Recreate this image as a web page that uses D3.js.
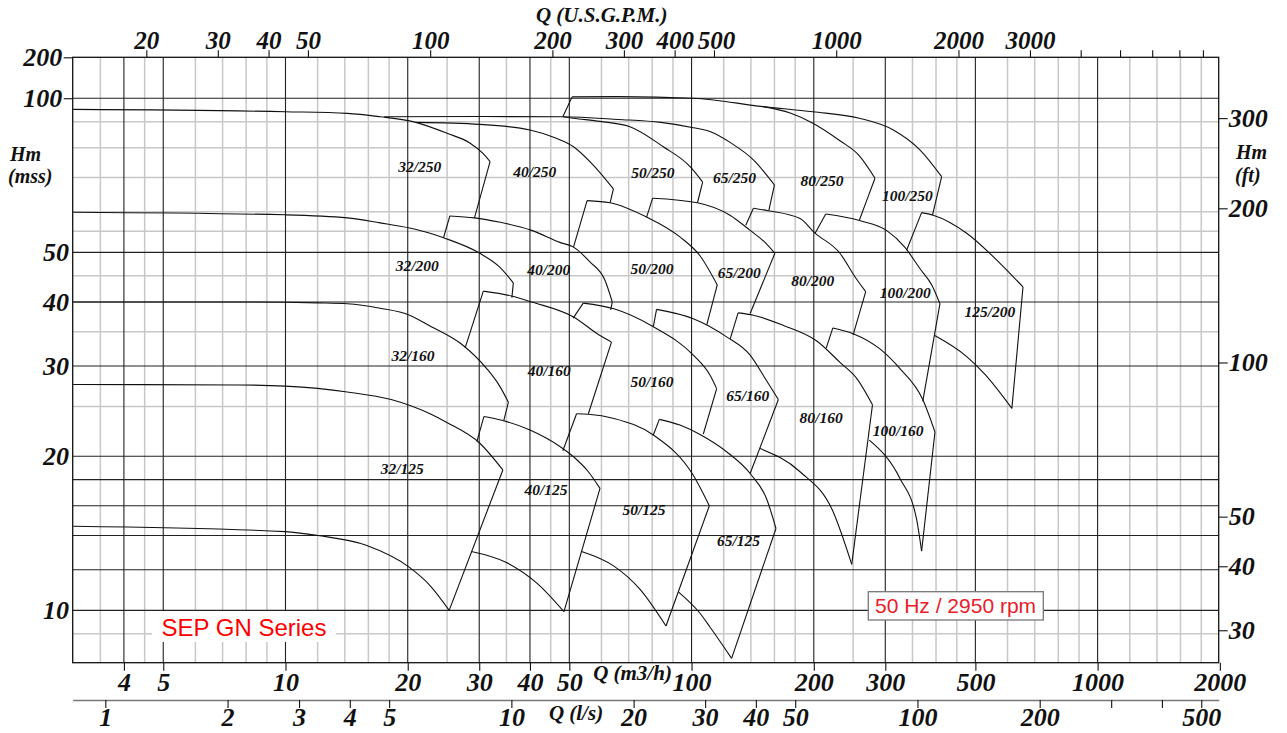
<!DOCTYPE html>
<html>
<head>
<meta charset="utf-8">
<script src="https://cdn.jsdelivr.net/npm/d3@7/dist/d3.min.js"></script>
<style>
  body { margin: 0; background: #fff; }
  svg text { font-family: "Liberation Serif", "Times New Roman", serif; font-weight: bold; font-style: italic; fill: #111; }
  .axis text { font-size: 26px; }
  .axis.top text { font-size: 25px; }
  .axis line { stroke: #111; stroke-width: 1.1; }
  .axis-title { font-size: 21px; }
  .curve-label { font-size: 15.5px; }
  .grid-light line { stroke: #c8c8c8; stroke-width: 1.5; }
  .grid-dark line { stroke: #222; stroke-width: 1.1; }
  .curves path { fill: none; stroke: #111; stroke-width: 1.1; }
  svg text.sans { font-family: "Liberation Sans", Arial, sans-serif; font-style: normal; font-weight: normal; }
</style>
</head>
<body>
<svg id="chart" width="1287" height="733"></svg>
<script>
// ---- axis values ----
const qTicksM3h = [4, 5, 10, 20, 30, 40, 50, 100, 200, 300, 500, 1000, 2000];
const qTicksGpm = [20, 30, 40, 50, 100, 200, 300, 400, 500, 1000, 2000, 3000];
const qMinorGpm = [4000, 5000, 6000, 7000, 8000];
const qTicksLs = [1, 2, 3, 4, 5, 10, 20, 30, 40, 50, 100, 200, 500];
const qMinorLs = [300, 400];
const hTicksM = [10, 20, 30, 40, 50, 100];
const hTopLabel = "200";
const hTicksFt = [30, 40, 50, 100, 200, 300];

// ---- grid ----
const vGridDark = [4, 5, 10, 20, 30, 40, 50, 100, 200, 300, 500, 1000];
const vGridLight = [3.5, 4.5, 6, 7, 8, 9, 12, 14, 16, 18, 25, 35, 45, 60, 70, 80, 90,
  120, 140, 160, 180, 250, 350, 400, 450, 600, 700, 800, 900, 1200, 1400, 1600, 1800];
const hGridDark = [10, 12, 14, 16, 18, 20, 30, 40, 50, 100];
const hGridLight = [9, 25, 35, 45, 55, 60, 70, 80, 90];

// ---- pump curves, Q in m3/h, H in m ----
// top = max impeller curve, left/right = end points of the side edges, bottom = min impeller curve
const series250 = [
  { name: "32/250", top: [[3, 95.1], [10, 94.1], [14.2, 93.4], [17.1, 92], [20.6, 90], [25, 85.4], [28.5, 81.7], [30.6, 78.1], [31.9, 75.2]], right: [29.2, 58.4] },
  { name: "40/250", top: [[21, 89.7], [30.1, 88.9], [40, 86.7], [46.1, 83.7], [51.2, 80.4], [57.2, 74.1], [64.2, 66.5]], right: [63, 62.5] },
  { name: "50/250", top: [[48.3, 92], [51.2, 91.4], [59.5, 90.1], [70.5, 88], [85.2, 80.4], [99.2, 73.5], [106.5, 68.6]], right: [103.4, 62.5] },
  { name: "65/250", top: [[17.5, 92], [30.1, 92.1], [48.2, 92], [66, 90.9], [84, 89.7], [101, 87.6], [111, 86.1], [125, 81.8], [142, 75.8], [160, 67.7]], right: [155, 60.3] },
  { name: "80/250", top: [[150, 96.3], [175, 93.6], [199, 89.4], [232, 82.6], [259, 77.2], [283, 69.8]], right: [259, 57.8] },
  { name: "100/250", left: [48.2, 92], top: [[50.8, 100.6], [66, 100.7], [101, 100], [150, 96.3], [199, 94.1], [259, 91.4], [314, 86.7], [365, 79.3], [413, 70.3]], right: [392, 59.1] }
];
const series200 = [
  { name: "32/200", top: [[3, 59.9], [10, 59.2], [14.2, 58.4], [17.1, 57.1], [20.2, 55.8], [22.7, 54.5], [24.5, 53.4], [30.1, 49.8], [33.7, 46.8], [36.4, 43.6]], right: [36.1, 40.8] },
  { name: "40/200", left: [24.5, 53.4], top: [[25.4, 58.9], [29.2, 58.4], [33.6, 57.3], [40.4, 55.2], [47.4, 52.3], [51.2, 51.2], [56.2, 47.9], [61.2, 44.1], [63.8, 40]], right: [63.2, 38.6] },
  { name: "50/200", left: [51.2, 51.2], top: [[55.3, 63.1], [63, 62.5], [77.5, 58.6], [93.6, 53.6], [105, 49.2], [115.7, 43.2]], right: [109, 36.1] },
  { name: "65/200", left: [77.5, 58.6], top: [[80.2, 63.8], [103.4, 62.5], [124.3, 59.1], [139.4, 55.2], [151.7, 52.3], [160.4, 49.8]], right: [139.4, 38] },
  { name: "80/200", left: [136, 56.5], top: [[142, 61], [154.5, 60.3], [185, 58.2], [201, 54.6], [232, 49.8], [254, 44.5], [268.5, 41.9]], right: [250, 34.5] },
  { name: "100/200", left: [201.5, 54.5], top: [[214, 59.4], [259, 57.7], [302, 55.2], [335, 51.2], [365, 46.5], [391, 43.1], [409, 39.7]], right: [371, 25.6] },
  { name: "125/200", left: [338.5, 50.5], top: [[368.6, 59.8], [393.8, 59.1], [476, 54.5], [575, 47.6], [655, 42.8]], right: [615, 24.8],
    bottom: [[397, 34.4], [476, 31.3], [528, 28.9], [615, 24.8]] }
];
const series160 = [
  { name: "32/160", top: [[3, 40], [8, 40], [12, 39.85], [14.2, 39.7], [17.1, 38.9], [20.2, 37.7], [22.7, 35.9], [27.4, 32.9], [31.3, 29.65], [33.6, 27.5], [35.4, 25.5]], right: [34.5, 23.5] },
  { name: "40/160", left: [27.7, 32.55], top: [[30.7, 42], [36, 41.1], [40.4, 40], [51.2, 37.4], [59.5, 34.4], [63.5, 33.4]], right: [55.7, 24.2] },
  { name: "50/160", left: [51.1, 37.2], top: [[54.1, 39.8], [64.4, 38.8], [80.5, 35.8], [101, 31.5], [111, 28.8], [115.3, 27.1]], right: [106.9, 22.1] },
  { name: "65/160", left: [80.5, 35.8], top: [[82, 38.7], [101, 37.1], [122, 34.2], [139.4, 31.5], [151.7, 28.4], [163.6, 25.8]], right: [139.4, 18.5] },
  { name: "80/160", left: [124.5, 33.9], top: [[130.2, 38.1], [142, 37.7], [168.4, 36], [203, 33.6], [232, 30.5], [254.8, 28.4], [279, 25.2]], right: [248, 12.3],
    bottom: [[147.5, 20.7], [185, 18.65], [223, 15.6], [248, 12.3]] },
  { name: "100/160", left: [214.6, 32.5], top: [[222.8, 35.6], [250, 34.7], [291, 32.4], [326, 29.65], [371, 25.8], [397.6, 22.3]], right: [368.6, 13.05],
    bottom: [[274, 21.5], [326, 18.1], [358, 15.1], [368.6, 13.05]] }
];
const series125 = [
  { name: "32/125", top: [[3, 27.6], [7.7, 27.55], [10, 27.4], [14.2, 26.7], [18.2, 25.8], [22.7, 24.2], [24.9, 23.3], [30.1, 21.2], [34.3, 18.8]], right: [25.3, 10],
    bottom: [[3, 14.6], [10, 14.25], [12, 14], [15.8, 13.4], [20.2, 12.13], [22.7, 11.18], [25.3, 10]] },
  { name: "40/125", left: [29.6, 21.35], top: [[30.8, 23.9], [34.1, 23.5], [40, 22.5], [47.5, 20.87], [51.2, 19.95], [55.7, 18.65], [59.5, 17.3]], right: [48.5, 9.94],
    bottom: [[28.7, 13.03], [35, 12.4], [41.6, 11.3], [48.5, 9.94]] },
  { name: "50/125", left: [48.2, 20.5], top: [[52.1, 24.2], [55.7, 24.15], [64.4, 23.7], [80.5, 22], [101, 18.35], [110.6, 16]], right: [86.5, 9.32],
    bottom: [[53.6, 13.03], [64.4, 12.2], [74.6, 11], [86.5, 9.32]] },
  { name: "65/125", left: [80.5, 22], top: [[83.3, 23.6], [93.6, 23], [104.9, 22.05], [122, 20.4], [139.4, 18.5], [153.1, 16.5], [161.4, 14.45]], right: [125.5, 8.06],
    bottom: [[92.8, 10.87], [104.9, 9.87], [111, 9.28], [125.5, 8.06]] }
];

// label anchors [name, Q, H]
const curveLabels = [
  ["32/250", 21.4, 73.5], ["40/250", 41.1, 71.7], ["50/250", 80.3, 71.4], ["65/250", 127.6, 69.8], ["80/250", 209.6, 69.1], ["100/250", 340, 64.4],
  ["32/200", 21.1, 47], ["40/200", 44.5, 46.3], ["50/200", 79.9, 46.4], ["65/200", 131, 45.5], ["80/200", 198.8, 44], ["100/200", 336, 41.7], ["125/200", 543, 38.3],
  ["32/160", 20.6, 31.4], ["40/160", 44.6, 29.4], ["50/160", 79.9, 27.9], ["65/160", 137.5, 26.2], ["80/160", 208.5, 23.8], ["100/160", 322.5, 22.4],
  ["32/125", 19.4, 18.85], ["40/125", 43.8, 17.15], ["50/125", 76.4, 15.7], ["65/125", 130.5, 13.65]
];

// unit conversions
const GPM_PER_M3H = 4.4029;
const M3H_PER_LS = 3.6;
const M_PER_FT = 0.3048;

const plot = { left: 72.7, right: 1218.7, top: 57.3, bottom: 662.7 };
const Q_RANGE = [2.992, 1987];
const H_RANGE = [7.903, 120.2];

const x = d3.scaleLog().domain(Q_RANGE).range([plot.left, plot.right]);
const y = d3.scaleLog().domain(H_RANGE).range([plot.bottom, plot.top]);
const xGpm = d3.scaleLog().domain(Q_RANGE.map(q => q * GPM_PER_M3H)).range(x.range());
const xLs = d3.scaleLog().domain(Q_RANGE.map(q => q / M3H_PER_LS)).range(x.range());
const yFt = d3.scaleLog().domain(H_RANGE.map(h => h / M_PER_FT)).range(y.range());

const svg = d3.select("#chart");

// grid
const grid = svg.append("g");
function vlines(vals, cls) {
  grid.append("g").attr("class", cls).selectAll("line").data(vals).join("line")
    .attr("x1", d => x(d)).attr("x2", d => x(d))
    .attr("y1", plot.top).attr("y2", plot.bottom);
}
function hlines(vals, cls) {
  grid.append("g").attr("class", cls).selectAll("line").data(vals).join("line")
    .attr("x1", plot.left).attr("x2", plot.right)
    .attr("y1", d => y(d)).attr("y2", d => y(d));
}
vlines(vGridLight, "grid-light");
hlines(hGridLight, "grid-light");
vlines(vGridDark, "grid-dark");
hlines(hGridDark, "grid-dark");

// series tag with white background
svg.append("rect").attr("x", 152).attr("y", 611).attr("width", 184).attr("height", 31).attr("fill", "#fff");
svg.append("text").attr("class", "sans").attr("x", 244).attr("y", 636)
  .attr("text-anchor", "middle").style("font-size", "24px").style("fill", "#ff0000")
  .text("SEP GN Series");

// curves
const straight = d3.line().x(d => x(d[0])).y(d => y(d[1]));
const smooth = d3.line().x(d => x(d[0])).y(d => y(d[1])).curve(d3.curveMonotoneX);
const curves = svg.append("g").attr("class", "curves");
[...series250, ...series200, ...series160, ...series125].forEach(p => {
  curves.append("path").attr("d", smooth(p.top));
  if (p.left) curves.append("path").attr("d", straight([p.left, p.top[0]]));
  curves.append("path").attr("d", straight([p.top[p.top.length - 1], p.right]));
  if (p.bottom) curves.append("path").attr("d", smooth(p.bottom));
});

svg.append("g").selectAll("text").data(curveLabels).join("text")
  .attr("class", "curve-label")
  .attr("x", d => x(d[1])).attr("y", d => y(d[2]))
  .attr("dy", "0.33em").attr("text-anchor", "middle")
  .text(d => d[0]);

// frame
svg.append("rect")
  .attr("x", plot.left).attr("y", plot.top)
  .attr("width", plot.right - plot.left).attr("height", plot.bottom - plot.top)
  .attr("fill", "none").attr("stroke", "#111").attr("stroke-width", 1.3);

// axes
const leftAxis = svg.append("g").attr("class", "axis")
  .attr("transform", `translate(${plot.left},0)`)
  .call(d3.axisLeft(y).tickValues([...hTicksM, H_RANGE[1]]).tickSize(0).tickPadding(3.7)
    .tickFormat(d => d === H_RANGE[1] ? hTopLabel : d));
leftAxis.select(".domain").remove();
leftAxis.selectAll(".tick").filter(d => d >= 100).each(function () {
  d3.select(this).select("line").attr("x2", -9);
  d3.select(this).select("text").attr("x", -10.4);
});

const rightAxis = svg.append("g").attr("class", "axis")
  .attr("transform", `translate(${plot.right},0)`)
  .call(d3.axisRight(yFt).tickValues(hTicksFt).tickSize(9).tickPadding(1).tickFormat(d => d));
rightAxis.select(".domain").remove();

const topAxis = svg.append("g").attr("class", "axis top")
  .attr("transform", `translate(0,${plot.top})`)
  .call(d3.axisTop(xGpm).tickValues([...qTicksGpm, ...qMinorGpm]).tickSize(7).tickPadding(1)
    .tickFormat(d => qTicksGpm.includes(d) ? d : ""));
topAxis.select(".domain").remove();
topAxis.selectAll(".tick").filter(d => d === 500).select("text").attr("dx", 2);

const bottomAxis = svg.append("g").attr("class", "axis")
  .attr("transform", `translate(0,${plot.bottom})`)
  .call(d3.axisBottom(x).tickValues(qTicksM3h).tickSize(8).tickPadding(2).tickFormat(d => d));
bottomAxis.select(".domain").remove();

const lsAxis = svg.append("g").attr("class", "axis")
  .attr("transform", "translate(0,700)")
  .call(d3.axisBottom(xLs).tickValues([...qTicksLs, ...qMinorLs]).tickSize(8).tickSizeOuter(0).tickPadding(0)
    .tickFormat(d => qTicksLs.includes(d) ? d : ""));
lsAxis.select(".domain").attr("stroke", "#777").attr("stroke-width", 1.6);

// axis titles
const titles = [
  ["Q (U.S.G.P.M.)", 601.7, 22, "middle"],
  ["Q (m3/h)", 632.5, 680, "middle"],
  ["Q (l/s)", 576, 720, "middle"],
  ["Hm", 10, 160.5, "start"],
  ["(mss)", 8, 183, "start"],
  ["Hm", 1236, 159, "start"],
  ["(ft)", 1235, 182, "start"]
];
svg.append("g").selectAll("text").data(titles).join("text")
  .attr("class", "axis-title")
  .attr("x", d => d[1]).attr("y", d => d[2]).attr("text-anchor", d => d[3])
  .style("font-size", d => d[0].startsWith("Q") ? "21px" : "20px")
  .text(d => d[0]);

// frequency box
svg.append("rect").attr("x", 868.3).attr("y", 591.7).attr("width", 175).attr("height", 28.3)
  .attr("fill", "#fff").attr("stroke", "#777").attr("stroke-width", 1.3);
svg.append("text").attr("class", "sans").attr("x", 875).attr("y", 612.7)
  .style("font-size", "21px").style("fill", "#e8202a")
  .text("50 Hz / 2950 rpm");
</script>
</body>
</html>
